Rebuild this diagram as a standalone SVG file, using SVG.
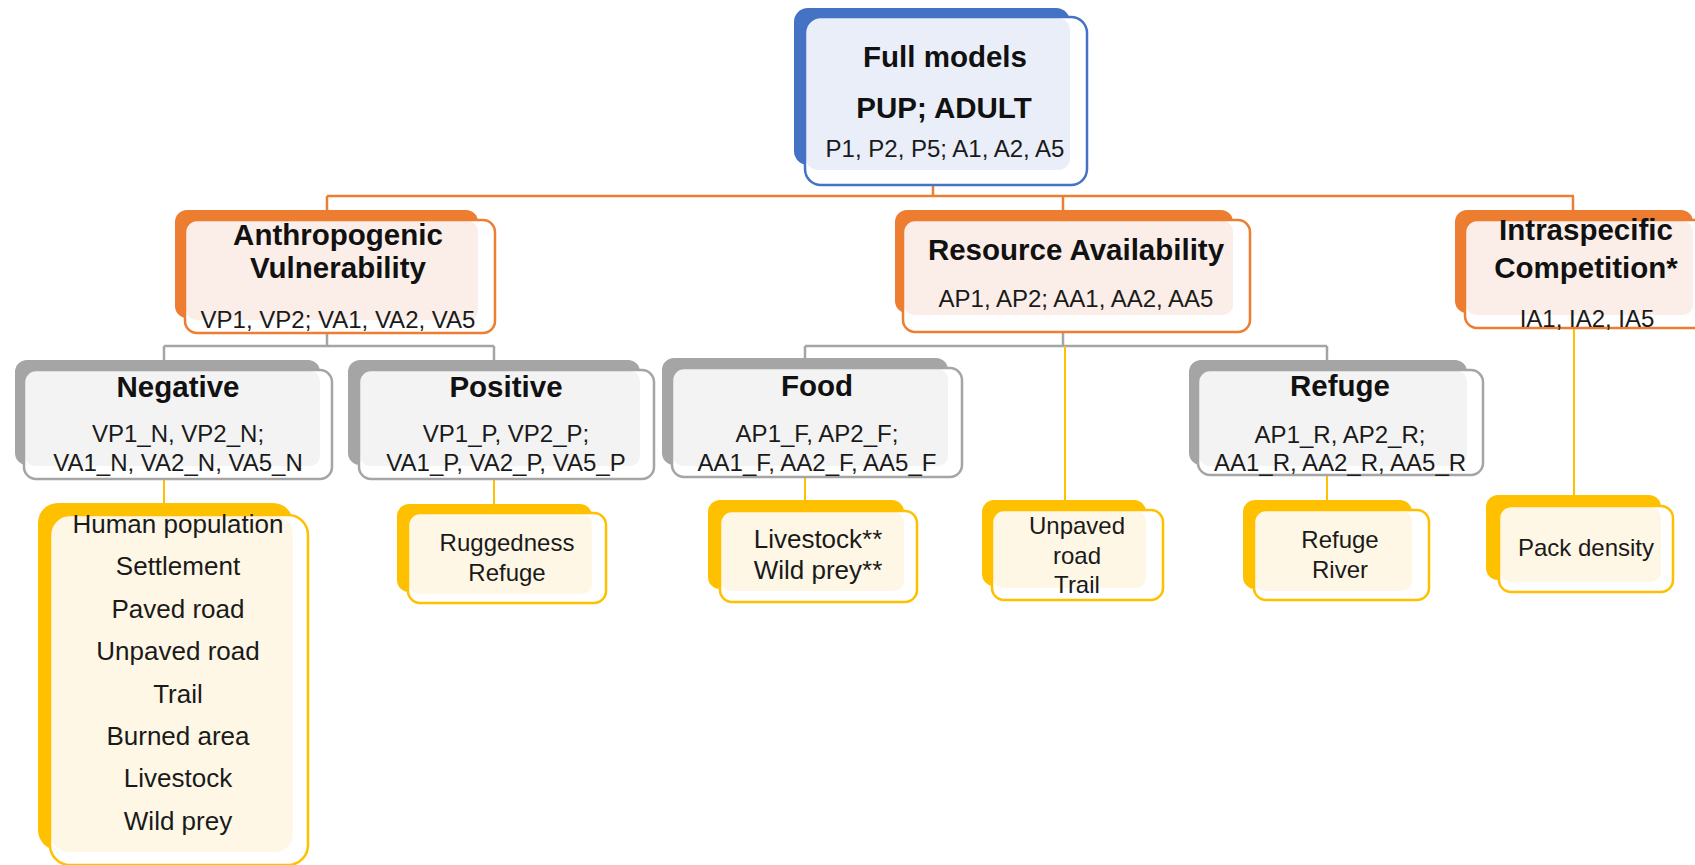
<svg xmlns="http://www.w3.org/2000/svg" width="1695" height="865" viewBox="0 0 1695 865">
<style>
text{font-family:"Liberation Sans",Arial,sans-serif;fill:#1a1a1a;text-anchor:middle}
.b{font-weight:bold;font-size:29.5px;fill:#111}
.r{font-size:24px}
.r26{font-size:26px}
.bkB{fill:#4472c4}.ltB{fill:#e9eef8}.olB{fill:none;stroke:#4472c4;stroke-width:2.5}
.bkO{fill:#ed7d31}.ltO{fill:#fbeee8}.olO{fill:none;stroke:#ed7d31;stroke-width:2.5}
.bkG{fill:#a5a5a5}.ltG{fill:#f3f3f3}.olG{fill:none;stroke:#a5a5a5;stroke-width:2.5}
.bkY{fill:#ffc000}.ltY{fill:#fff7e5}.olY{fill:none;stroke:#ffc000;stroke-width:2.5}
.wh{fill:#fff}
.cO{stroke:#ed7d31;stroke-width:2.5;fill:none}
.cG{stroke:#a5a5a5;stroke-width:2.5;fill:none}
.cY{stroke:#ffc000;stroke-width:2;fill:none}
</style>
<rect width="1695" height="865" fill="#fff"/>
<g id="connectors">
<path class="cO" d="M933,185V196M327,196H1574M327,196V210M1063,196V210M1573,196V210"/>
<path class="cG" d="M327,333V346M164,346H494M164,346V360M494,346V360"/>
<path class="cG" d="M1063,332V346M805,346H1327M805,346V358M1327,346V360"/>
<path class="cY" d="M164,479V503M494,479V504M805,477V500M1065,346V500M1327,475V500M1574,328V495"/>
</g>
<g id="full-models">
<rect class="bkB" x="794" y="8" width="276" height="157" rx="14"/>
<rect class="wh" x="805" y="17" width="282" height="168" rx="16"/>
<rect class="ltB" x="806" y="18" width="264" height="152" rx="12"/>
<rect class="olB" x="805" y="17" width="282" height="168" rx="16"/>
<text class="b" x="945" y="67">Full models</text>
<text class="b" x="944" y="118">PUP; ADULT</text>
<text class="r" x="945" y="157">P1, P2, P5; A1, A2, A5</text>
</g>
<g id="anthropogenic">
<rect class="bkO" x="175" y="210" width="303" height="108" rx="12"/>
<rect class="wh" x="185" y="220" width="310" height="113" rx="12"/>
<rect class="ltO" x="186" y="221" width="292" height="99" rx="10"/>
<rect class="olO" x="185" y="220" width="310" height="113" rx="12"/>
<text class="b" x="338" y="245">Anthropogenic</text>
<text class="b" x="338" y="278">Vulnerability</text>
<text class="r" x="338" y="328">VP1, VP2; VA1, VA2, VA5</text>
</g>
<g id="resource">
<rect class="bkO" x="895" y="210" width="338" height="103" rx="12"/>
<rect class="wh" x="903" y="220" width="347" height="112" rx="12"/>
<rect class="ltO" x="904" y="221" width="329" height="94" rx="10"/>
<rect class="olO" x="903" y="220" width="347" height="112" rx="12"/>
<text class="b" x="1076" y="260">Resource Availability</text>
<text class="r" x="1076" y="307">AP1, AP2; AA1, AA2, AA5</text>
</g>
<g id="intraspecific">
<rect class="bkO" x="1455" y="210" width="238" height="103" rx="12"/>
<rect class="wh" x="1465" y="220" width="245" height="108" rx="12"/>
<rect class="ltO" x="1466" y="221" width="227" height="94" rx="10"/>
<rect class="olO" x="1465" y="220" width="245" height="108" rx="12"/>
<text class="b" x="1586" y="240">Intraspecific</text>
<text class="b" x="1586" y="278">Competition*</text>
<text class="r" x="1587" y="327">IA1, IA2, IA5</text>
</g>
<g id="negative">
<rect class="bkG" x="15" y="360" width="305" height="105" rx="12"/>
<rect class="wh" x="24" y="370" width="308" height="109" rx="12"/>
<rect class="ltG" x="25" y="371" width="295" height="95" rx="10"/>
<rect class="olG" x="24" y="370" width="308" height="109" rx="12"/>
<text class="b" x="178" y="397">Negative</text>
<text class="r" x="178" y="442">VP1_N, VP2_N;</text>
<text class="r" x="178" y="471">VA1_N, VA2_N, VA5_N</text>
</g>
<g id="positive">
<rect class="bkG" x="348" y="360" width="292" height="105" rx="12"/>
<rect class="wh" x="359" y="370" width="295" height="109" rx="12"/>
<rect class="ltG" x="360" y="371" width="280" height="95" rx="10"/>
<rect class="olG" x="359" y="370" width="295" height="109" rx="12"/>
<text class="b" x="506" y="397">Positive</text>
<text class="r" x="506" y="442">VP1_P, VP2_P;</text>
<text class="r" x="506" y="471">VA1_P, VA2_P, VA5_P</text>
</g>
<g id="food">
<rect class="bkG" x="662" y="358" width="286" height="107" rx="12"/>
<rect class="wh" x="672" y="368" width="290" height="109" rx="12"/>
<rect class="ltG" x="673" y="369" width="275" height="97" rx="10"/>
<rect class="olG" x="672" y="368" width="290" height="109" rx="12"/>
<text class="b" x="817" y="396">Food</text>
<text class="r" x="817" y="442">AP1_F, AP2_F;</text>
<text class="r" x="817" y="471">AA1_F, AA2_F, AA5_F</text>
</g>
<g id="refuge">
<rect class="bkG" x="1189" y="360" width="278" height="105" rx="12"/>
<rect class="wh" x="1198" y="370" width="285" height="105" rx="12"/>
<rect class="ltG" x="1199" y="371" width="268" height="95" rx="10"/>
<rect class="olG" x="1198" y="370" width="285" height="105" rx="12"/>
<text class="b" x="1340" y="396">Refuge</text>
<text class="r" x="1340" y="443">AP1_R, AP2_R;</text>
<text class="r" x="1340" y="471">AA1_R, AA2_R, AA5_R</text>
</g>
<g id="negative-list">
<rect class="bkY" x="38" y="503" width="255" height="347" rx="20"/>
<rect class="wh" x="50" y="515" width="258" height="350" rx="20"/>
<rect class="ltY" x="51" y="516" width="242" height="336" rx="18"/>
<rect class="olY" x="50" y="515" width="258" height="350" rx="20"/>
<text class="r26" x="178" y="533">Human population</text>
<text class="r26" x="178" y="575">Settlement</text>
<text class="r26" x="178" y="618">Paved road</text>
<text class="r26" x="178" y="660">Unpaved road</text>
<text class="r26" x="178" y="703">Trail</text>
<text class="r26" x="178" y="745">Burned area</text>
<text class="r26" x="178" y="787">Livestock</text>
<text class="r26" x="178" y="830">Wild prey</text>
</g>
<g id="positive-list">
<rect class="bkY" x="397" y="504" width="195" height="88" rx="12"/>
<rect class="wh" x="408" y="513" width="198" height="90" rx="12"/>
<rect class="ltY" x="409" y="514" width="183" height="80" rx="10"/>
<rect class="olY" x="408" y="513" width="198" height="90" rx="12"/>
<text class="r" x="507" y="551">Ruggedness</text>
<text class="r" x="507" y="581">Refuge</text>
</g>
<g id="food-list">
<rect class="bkY" x="708" y="500" width="196" height="89" rx="12"/>
<rect class="wh" x="720" y="511" width="197" height="91" rx="12"/>
<rect class="ltY" x="721" y="512" width="183" height="79" rx="10"/>
<rect class="olY" x="720" y="511" width="197" height="91" rx="12"/>
<text class="r26" x="818" y="548">Livestock**</text>
<text class="r26" x="818" y="579">Wild prey**</text>
</g>
<g id="resource-list">
<rect class="bkY" x="982" y="500" width="164" height="86" rx="12"/>
<rect class="wh" x="992" y="510" width="171" height="90" rx="12"/>
<rect class="ltY" x="993" y="511" width="153" height="77" rx="10"/>
<rect class="olY" x="992" y="510" width="171" height="90" rx="12"/>
<text class="r" x="1077" y="534">Unpaved</text>
<text class="r" x="1077" y="564">road</text>
<text class="r" x="1077" y="593">Trail</text>
</g>
<g id="refuge-list">
<rect class="bkY" x="1243" y="500" width="169" height="89" rx="12"/>
<rect class="wh" x="1254" y="510" width="175" height="90" rx="12"/>
<rect class="ltY" x="1255" y="511" width="157" height="80" rx="10"/>
<rect class="olY" x="1254" y="510" width="175" height="90" rx="12"/>
<text class="r" x="1340" y="548">Refuge</text>
<text class="r" x="1340" y="578">River</text>
</g>
<g id="pack-density">
<rect class="bkY" x="1486" y="495" width="175" height="85" rx="12"/>
<rect class="wh" x="1499" y="506" width="174" height="86" rx="12"/>
<rect class="ltY" x="1500" y="507" width="161" height="75" rx="10"/>
<rect class="olY" x="1499" y="506" width="174" height="86" rx="12"/>
<text class="r" x="1586" y="556">Pack density</text>
</g>
</svg>
